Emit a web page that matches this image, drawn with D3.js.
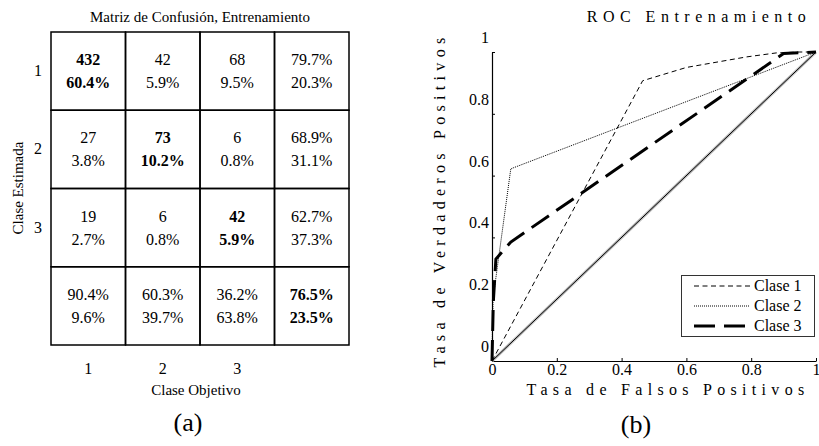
<!DOCTYPE html>
<html>
<head>
<meta charset="utf-8">
<script src="https://cdn.jsdelivr.net/npm/d3@7"></script>
<style>
  body { margin: 0; background: #fff; }
  text { font-family: "Liberation Serif", "Times New Roman", serif; fill: #000; }
</style>
</head>
<body>
<div id="chart"></div>
<script>
// Confusion matrix data
var classes = ["1", "2", "3"];
var counts = [[432, 42, 68], [27, 73, 6], [19, 6, 42]];
var cellPct = [["60.4%", "5.9%", "9.5%"], ["3.8%", "10.2%", "0.8%"], ["2.7%", "0.8%", "5.9%"]];
var rowPct = [["79.7%", "20.3%"], ["68.9%", "31.1%"], ["62.7%", "37.3%"]];
var colPct = [["90.4%", "9.6%"], ["60.3%", "39.7%"], ["36.2%", "63.8%"]];
var totalPct = ["76.5%", "23.5%"];

// ROC data
var rocTicks = [0, 0.2, 0.4, 0.6, 0.8, 1];
var fpr1 = [0, 0.465, 0.6, 0.785, 0.877, 0.95, 1];
var tpr1 = [0, 0.907, 0.95, 0.984, 0.997, 1, 1];
var fpr2 = [0, 0.003, 0.058, 1];
var tpr2 = [0, 0.2, 0.622, 1];
var fpr3 = [0, 0.004, 0.012, 0.058, 0.9, 1];
var tpr3 = [0, 0.19, 0.33, 0.385, 0.995, 1];
var rocSeries = [
    {name: "Clase 1", x: fpr1, y: tpr1, width: 1, dash: "5,3.5"},
    {name: "Clase 2", x: fpr2, y: tpr2, width: 1, dash: "1,1"},
    {name: "Clase 3", x: fpr3, y: tpr3, width: 3, dash: "21,9"}
];

var svgWidth = 819;
var svgHeight = 446;

var svg = d3.select("#chart")
    .append("svg")
    .attr("width", svgWidth)
    .attr("height", svgHeight);

// ---------- (a) confusion matrix ----------
var gridLeft = 51, gridTop = 32, gridRight = 349, gridBottom = 345;
var colScale = d3.scaleBand()
    .domain([0, 1, 2, 3])
    .range([gridLeft, gridRight]);
var rowScale = d3.scaleBand()
    .domain([0, 1, 2, 3])
    .range([gridTop, gridBottom]);

// build the cell table
var cells = [];
for (var r = 0; r < 4; r++) {
    for (var c = 0; c < 4; c++) {
        var lines, bold;
        if (r < 3 && c < 3) {
            lines = [String(counts[r][c]), cellPct[r][c]];
            bold = (r === c);
        } else if (r < 3) {
            lines = rowPct[r];
            bold = false;
        } else if (c < 3) {
            lines = colPct[c];
            bold = false;
        } else {
            lines = totalPct;
            bold = true;
        }
        cells.push({r: r, c: c, lines: lines, bold: bold});
    }
}

var cm = svg.append("g");

cm.selectAll("rect")
    .data(cells)
    .enter()
    .append("rect")
    .attr("x", d => colScale(d.c))
    .attr("y", d => rowScale(d.r))
    .attr("width", colScale.bandwidth())
    .attr("height", rowScale.bandwidth())
    .attr("fill", "none")
    .attr("stroke", "#000")
    .attr("stroke-width", 1.5);

var cellText = cm.selectAll("text.cell")
    .data(cells)
    .enter()
    .append("text")
    .attr("class", "cell")
    .attr("text-anchor", "middle")
    .style("font-size", "16px")
    .style("font-weight", d => d.bold ? "bold" : "normal");
cellText.append("tspan")
    .attr("x", d => colScale(d.c) + colScale.bandwidth() / 2)
    .attr("y", d => rowScale(d.r) + rowScale.bandwidth() / 2 - 6)
    .text(d => d.lines[0]);
cellText.append("tspan")
    .attr("x", d => colScale(d.c) + colScale.bandwidth() / 2)
    .attr("y", d => rowScale(d.r) + rowScale.bandwidth() / 2 + 17)
    .text(d => d.lines[1]);

// row labels
cm.selectAll("text.rowlab")
    .data(classes)
    .enter()
    .append("text")
    .attr("class", "rowlab")
    .attr("x", 38)
    .attr("y", (d, i) => rowScale(i) + rowScale.bandwidth() / 2 + 5)
    .attr("text-anchor", "middle")
    .style("font-size", "16px")
    .text(d => d);

// column labels
cm.selectAll("text.collab")
    .data(classes)
    .enter()
    .append("text")
    .attr("class", "collab")
    .attr("x", (d, i) => colScale(i) + colScale.bandwidth() / 2)
    .attr("y", 374)
    .attr("text-anchor", "middle")
    .style("font-size", "16px")
    .text(d => d);

cm.append("text")
    .attr("x", 200)
    .attr("y", 22)
    .attr("text-anchor", "middle")
    .style("font-size", "15px")
    .text("Matriz de Confusión, Entrenamiento");

cm.append("text")
    .attr("x", 196)
    .attr("y", 395)
    .attr("text-anchor", "middle")
    .style("font-size", "15px")
    .text("Clase Objetivo");

cm.append("text")
    .attr("transform", "translate(23, 188) rotate(-90)")
    .attr("text-anchor", "middle")
    .style("font-size", "15px")
    .text("Clase Estimada");

cm.append("text")
    .attr("x", 188)
    .attr("y", 431)
    .attr("text-anchor", "middle")
    .style("font-size", "26px")
    .text("(a)");

// ---------- (b) ROC ----------
var xScale = d3.scaleLinear().domain([0, 1]).range([492, 816]);
var yScale = d3.scaleLinear().domain([0, 1]).range([361, 52]);

var roc = svg.append("g");

var xAxis = d3.axisBottom(xScale)
    .tickValues(rocTicks)
    .tickFormat(d3.format("~g"))
    .tickSizeInner(-3)
    .tickSizeOuter(0)
    .tickPadding(5);
var yAxis = d3.axisLeft(yScale)
    .tickValues(rocTicks)
    .tickFormat(d3.format("~g"))
    .tickSizeInner(-3)
    .tickSizeOuter(0)
    .tickPadding(3);

var gx = roc.append("g")
    .attr("transform", `translate(0, ${yScale(0)})`)
    .call(xAxis);
var gy = roc.append("g")
    .attr("transform", `translate(${xScale(0)}, 0)`)
    .call(yAxis);

[gx, gy].forEach(function (g) {
    g.attr("font-family", null);
    g.select(".domain").attr("stroke", "#000").attr("stroke-width", 1.2);
    g.selectAll(".tick line").attr("stroke", "#000");
    g.selectAll(".tick text")
        .style("font-family", "'Liberation Serif', serif")
        .style("font-size", "16px")
        .attr("fill", "#000");
});
// y tick labels sit above their ticks
gy.selectAll(".tick text").attr("dy", "-0.6em");
gx.selectAll(".tick text").attr("dy", "0.55em");

// chance diagonal
roc.append("line")
    .attr("x1", xScale(0)).attr("y1", yScale(0))
    .attr("x2", xScale(1)).attr("y2", yScale(1))
    .attr("stroke", "#bbb")
    .attr("stroke-width", 3);
roc.append("line")
    .attr("x1", xScale(0)).attr("y1", yScale(0))
    .attr("x2", xScale(1)).attr("y2", yScale(1))
    .attr("stroke", "#000")
    .attr("stroke-width", 1);

var line = d3.line()
    .x(d => xScale(d[0]))
    .y(d => yScale(d[1]));

roc.selectAll("path.curve")
    .data(rocSeries)
    .enter()
    .append("path")
    .attr("class", "curve")
    .attr("d", d => line(d3.zip(d.x, d.y)))
    .attr("fill", "none")
    .attr("stroke", "#000")
    .attr("stroke-width", d => d.width)
    .attr("stroke-dasharray", d => d.dash);

// legend
var legend = roc.append("g");
legend.append("rect")
    .attr("x", 681.5)
    .attr("y", 275.5)
    .attr("width", 133)
    .attr("height", 61)
    .attr("fill", "#fff")
    .attr("stroke", "#333")
    .attr("stroke-width", 1);
var items = legend.selectAll("g.item")
    .data(rocSeries)
    .enter()
    .append("g")
    .attr("class", "item")
    .attr("transform", (d, i) => `translate(0, ${286 + i * 20})`);
items.append("line")
    .attr("x1", 694).attr("x2", 750)
    .attr("y1", 0).attr("y2", 0)
    .attr("stroke", "#000")
    .attr("stroke-width", d => d.width)
    .attr("stroke-dasharray", d => d.dash);
items.append("text")
    .attr("x", 754)
    .attr("y", 5)
    .style("font-size", "16px")
    .text(d => d.name);

// axis titles
roc.append("text")
    .attr("x", 699)
    .attr("y", 22)
    .attr("text-anchor", "middle")
    .style("font-size", "16px")
    .style("letter-spacing", "5.5px")
    .text("ROC Entrenamiento");

roc.append("text")
    .attr("x", 668)
    .attr("y", 395)
    .attr("text-anchor", "middle")
    .style("font-size", "16px")
    .style("letter-spacing", "5.3px")
    .text("Tasa de Falsos Positivos");

roc.append("text")
    .attr("transform", "translate(445, 200) rotate(-90)")
    .attr("text-anchor", "middle")
    .style("font-size", "16px")
    .style("letter-spacing", "5.3px")
    .text("Tasa de Verdaderos Positivos");

roc.append("text")
    .attr("x", 636)
    .attr("y", 433)
    .attr("text-anchor", "middle")
    .style("font-size", "26px")
    .text("(b)");
</script>
</body>
</html>
